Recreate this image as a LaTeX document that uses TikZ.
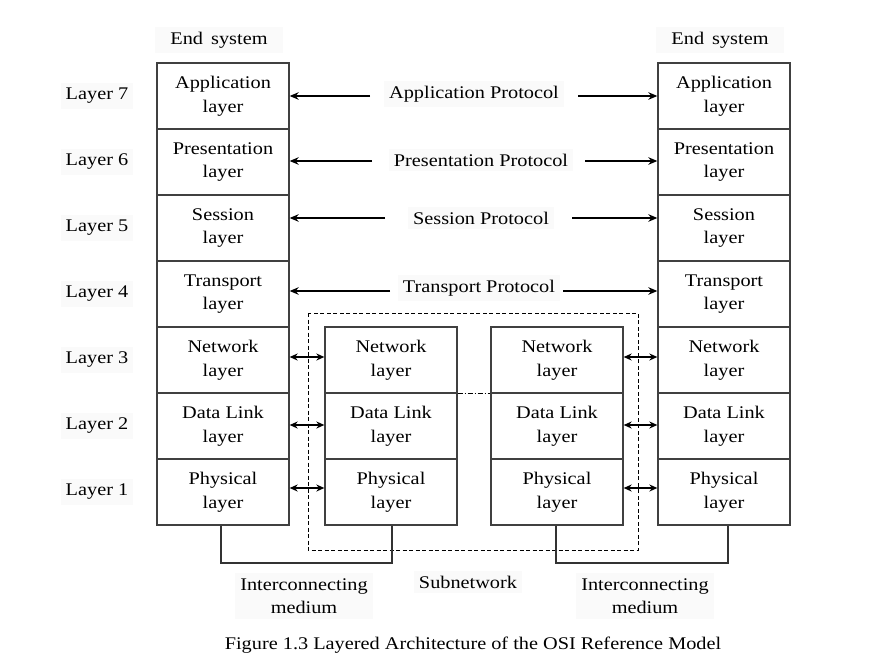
\documentclass[tikz,border=0pt]{standalone}
\usepackage{fontspec}
\setmainfont{Liberation Serif}[FakeStretch=1.14]
\usetikzlibrary{arrows.meta}
\begin{document}
\begin{tikzpicture}[x=1pt,y=-1pt,
  every node/.style={font=\fontsize{17.8}{23.5}\selectfont},
  layerbox/.style={draw=black!75,line width=1.3pt,minimum width=132pt,minimum height=66pt,align=center,inner sep=0pt},
  lbl/.style={fill=black!2,inner sep=5pt,align=center},
  arr/.style={line width=1.5pt,-{Stealth[length=9pt,width=7.5pt]}},
  darr/.style={line width=1.5pt,{Stealth[length=8pt,width=7pt]}-{Stealth[length=8pt,width=7pt]}},
  conn/.style={line width=1.1pt,draw=black!80}]
\useasboundingbox (0,0) rectangle (873,661);
% end system stacks
\foreach \n/\t [count=\k from 0] in {7/{Application\\layer},6/{Presentation\\layer},5/{Session\\layer},4/{Transport\\layer},3/{Network\\layer},2/{Data Link\\layer},1/{Physical\\layer}}{
  \node[layerbox] (L\n) at (223,{96+66*\k}) {\t};
  \node[layerbox] (R\n) at (724,{96+66*\k}) {\t};
  \node[lbl] (Y\n) at (97,{96+66*\k}) {Layer \n};
}
% subnetwork stacks
\foreach \n/\t [count=\k from 4] in {3/{Network\\layer},2/{Data Link\\layer},1/{Physical\\layer}}{
  \node[layerbox] (A\n) at (391,{96+66*\k}) {\t};
  \node[layerbox] (B\n) at (557,{96+66*\k}) {\t};
}
\node[lbl,minimum width=128pt] (es1) at (219,40) {End\, system};
\node[lbl,minimum width=128pt] (es2) at (720,40) {End\, system};
% protocol labels
\node[lbl] (p7) at (474,94) {Application Protocol};
\node[lbl] (p6) at (481,160) {Presentation Protocol};
\node[lbl] (p5) at (481,218) {Session Protocol};
\node[lbl] (p4) at (479,288) {Transport Protocol};
\coordinate (a7l) at (370,96); \coordinate (a7r) at (578,96);
\coordinate (a6l) at (372,161); \coordinate (a6r) at (585,161);
\coordinate (a5l) at (385,218); \coordinate (a5r) at (572,218);
\coordinate (a4l) at (390,291); \coordinate (a4r) at (563,291);
\foreach \n in {7,6,5,4}{
  \draw[arr] (a\n l) -- (L\n.east |- a\n l);
  \draw[arr] (a\n r) -- (R\n.west |- a\n r);
}
% short double arrows
\foreach \n/\yy in {3/357,2/425,1/488}{
  \draw[darr] (L\n.east |- 0,\yy) -- (A\n.west |- 0,\yy);
  \draw[darr] (B\n.east |- 0,\yy) -- (R\n.west |- 0,\yy);
}
% dash-dot between subnetwork stacks
\draw[line width=0.8pt,dash pattern=on 5pt off 2pt on 1pt off 2pt] (A3.south east) -- (B3.south west);
% subnetwork dashed frame
\draw[line width=1pt,dash pattern=on 4pt off 2.5pt] (308,313) rectangle (638,550);
% interconnecting media
\draw[conn] ([xshift=-2pt]L1.south) -- ([xshift=-2pt]L1.south |- 0,563) -| ([xshift=1pt]A1.south);
\draw[conn] ([xshift=-1pt]B1.south) -- ([xshift=-1pt]B1.south |- 0,563) -| ([xshift=4pt]R1.south);
% bottom labels
\node[lbl] (im1) at (304,596) {Interconnecting\\medium};
\node[lbl] (sn) at (468,582) {Subnetwork};
\node[lbl] (im2) at (645,596) {Interconnecting\\medium};
\node (cap) at (473,645) {Figure 1.3 Layered Architecture of the OSI Reference Model};
\end{tikzpicture}
\end{document}
